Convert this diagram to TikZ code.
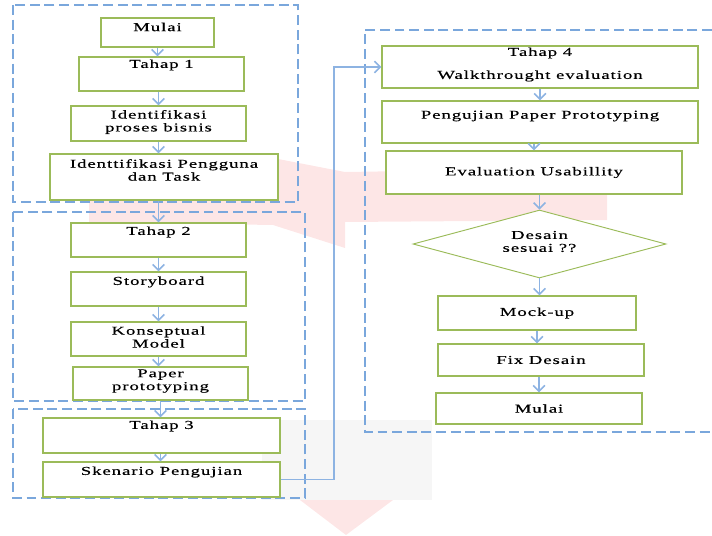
\documentclass[tikz,border=0pt]{standalone}
\usepackage{fontspec}
\setmainfont{Liberation Serif}
\newfontfamily\boxfont[FakeStretch=1.55,LetterSpace=8,FakeBold=0.3]{Liberation Serif}
\usetikzlibrary{arrows.meta,shapes.geometric,positioning}
\definecolor{boxgreen}{HTML}{9BBB59}
\definecolor{flowblue}{HTML}{8DB3E2}
\definecolor{groupblue}{HTML}{7AA7DC}
\definecolor{markpink}{HTML}{FDE6E6}
\definecolor{markgrey}{HTML}{F6F6F6}
\tikzset{
  stepbox/.style={draw=boxgreen, line width=1.2pt, fill=white, rectangle, inner sep=0pt},
  choice/.style={draw=boxgreen, line width=0.8pt, fill=white, diamond, inner sep=0pt},
  txt/.style={font=\boxfont\fontsize{10.3}{11}\selectfont, align=center, inner sep=0pt},
  flow/.style={draw=flowblue, line width=1.3pt, -{Straight Barb[length=5pt,width=10pt]}},
  group/.style={draw=groupblue, line width=0.9pt, dash pattern=on 8.5pt off 4pt}
}
\begin{document}
\begin{tikzpicture}[x=0.03cm, y=-0.03cm]
		\useasboundingbox (0,0) rectangle (712,535);
		% watermark
		\fill[markgrey] (262,420) rectangle (432,500);
		\fill[markpink] (89,200) -- (273,158) -- (345,172) -- (607,168) -- (607,220) -- (345,222) -- (345,248) -- (273,225) -- (89,222) -- cycle;
		\fill[markpink] (300,500) -- (393,500) -- (346,535) -- cycle;
		% groups
		\draw[group] (13,5) rectangle (298,202);
		\draw[group] (13,212) rectangle (305,401);
		\draw[group] (13,409) rectangle (305,498);
		\draw[group] (712,30) -- (365,30) -- (365,432) -- (712,432);
		% left column
		\node[stepbox, minimum width=3.39cm, minimum height=0.87cm] (mulai1) at (157.5,32.5) {};
		\node[txt] (mulai1-t) at (157.5,27) {Mulai};
		\node[stepbox, minimum width=4.95cm, minimum height=1.02cm] (tahap1) at (161.5,74) {};
		\node[txt] (tahap1-t) at (161.5,65) {Tahap 1};
		\node[stepbox, minimum width=5.25cm, minimum height=1.05cm] (proses) at (158.5,123.5) {};
		\node[txt] (proses-t) at (158.5,122) {Identifikasi\\proses bisnis};
		\node[stepbox, minimum width=6.84cm, minimum height=1.38cm] (pengguna) at (164,177) {};
		\node[txt] (pengguna-t) at (164,170) {Identtifikasi Pengguna\\dan Task};
		\node[stepbox, minimum width=5.25cm, minimum height=1.02cm] (tahap2) at (158.5,240) {};
		\node[txt] (tahap2-t) at (158.5,232) {Tahap 2};
		\node[stepbox, minimum width=5.25cm, minimum height=1.02cm] (story) at (158.5,289) {};
		\node[txt] (story-t) at (158.5,282) {Storyboard};
		\node[stepbox, minimum width=5.25cm, minimum height=1.02cm] (konsep) at (158.5,339) {};
		\node[txt] (konsep-t) at (158.5,337) {Konseptual\\Model};
		\node[stepbox, minimum width=5.25cm, minimum height=0.99cm] (paper) at (160.5,383.5) {};
		\node[txt] (paper-t) at (160.5,381) {Paper\\prototyping};
		\node[stepbox, minimum width=7.11cm, minimum height=1.05cm] (tahap3) at (161.5,435.5) {};
		\node[txt] (tahap3-t) at (161.5,426) {Tahap 3};
		\node[stepbox, minimum width=7.11cm, minimum height=1.05cm] (skenario) at (161.5,479.5) {};
		\node[txt] (skenario-t) at (161.5,472) {Skenario Pengujian};
		% right column
		\node[stepbox, minimum width=9.48cm, minimum height=1.26cm] (tahap4) at (540,67) {};
		\node[txt] (tahap4-t) at (540,53) {Tahap 4};
		\node[txt] (walk-t) at (540,76) {Walkthrought evaluation};
		\node[stepbox, minimum width=9.48cm, minimum height=1.26cm] (uji) at (540,122) {};
		\node[txt] (uji-t) at (540,116) {Pengujian Paper Prototyping};
		\node[stepbox, txt, minimum width=8.88cm, minimum height=1.29cm] (usab) at (534,172.5) {Evaluation Usabillity};
		\node[choice, txt, minimum width=7.59cm, minimum height=2.04cm] (desain) at (539.5,244) {};
		\node[txt] (desain-t) at (539.5,241.5) {Desain\\sesuai ??};
		\node[stepbox, txt, minimum width=5.94cm, minimum height=1.02cm] (mockup) at (537,313) {Mock-up};
		\node[stepbox, txt, minimum width=6.18cm, minimum height=0.96cm] (fix) at (541,360) {Fix Desain};
		\node[stepbox, txt, minimum width=6.18cm, minimum height=0.93cm] (mulai2) at (539,408.5) {Mulai};
		% connectors
		\coordinate (turn) at (334,67);
		\draw[flow] (mulai1.south) -- (mulai1.south |- tahap1.north);
		\draw[flow] (tahap1.south -| proses.north) -- (proses.north);
		\draw[flow] (proses.south) -- (proses.south |- pengguna.north);
		\draw[flow] (proses.south |- pengguna.south) -- (proses.south |- tahap2.north);
		\draw[flow] (tahap2.south) -- (story.north);
		\draw[flow] (story.south) -- (konsep.north);
		\draw[flow] (konsep.south) -- (konsep.south |- paper.north);
		\draw[flow] (paper.south) -- (paper.south |- tahap3.north);
		\draw[flow] (paper.south |- tahap3.south) -- (paper.south |- skenario.north);
		\draw[flow] (skenario.east) -| (turn) |- (tahap4.west);
		\draw[flow] (tahap4.south) -- (uji.north);
		\draw[flow] (usab.south |- uji.south) -- (usab.north);
		\draw[flow] (usab.south -| desain.north) -- (desain.north);
		\draw[flow] (desain.south) -- (desain.south |- mockup.north);
		\draw[flow] (mockup.south) -- (mockup.south |- fix.north);
		\draw[flow] (mulai2.north |- fix.south) -- (mulai2.north);
\end{tikzpicture}
\end{document}
